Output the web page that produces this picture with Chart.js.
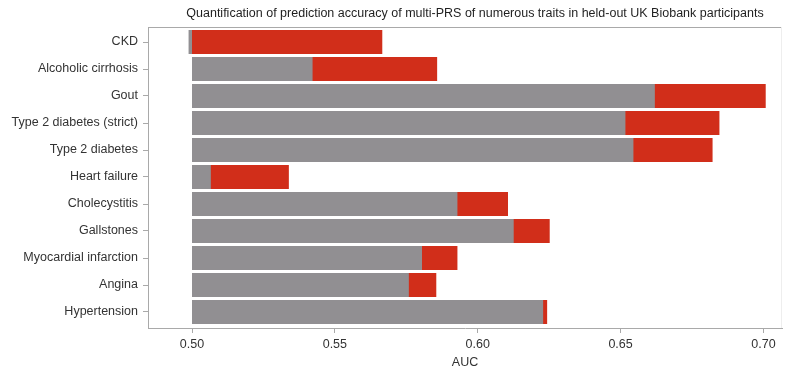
<!DOCTYPE html>
<html>
<head>
<meta charset="utf-8">
<script src="https://cdn.jsdelivr.net/npm/chart.js@4/dist/chart.umd.min.js"></script>
<style>
  html, body { margin: 0; padding: 0; background: #ffffff; }
  #wrap { width: 785px; height: 370px; position: relative; }
</style>
</head>
<body>
<div id="wrap"><canvas id="c" width="785" height="370"></canvas></div>
<script>
// Traits, top to bottom
const traits = [
  'CKD', 'Alcoholic cirrhosis', 'Gout', 'Type 2 diabetes (strict)', 'Type 2 diabetes',
  'Heart failure', 'Cholecystitis', 'Gallstones', 'Myocardial infarction', 'Angina', 'Hypertension'
];
// AUC of the baseline model (grey) and of the model with multi-PRS added (red)
const baseAuc = [0.4988, 0.5422, 0.6620, 0.6517, 0.6545, 0.5066, 0.5929, 0.6126, 0.5805, 0.5759, 0.6229];
const fullAuc = [0.5666, 0.5858, 0.7008, 0.6846, 0.6822, 0.5339, 0.6106, 0.6252, 0.5929, 0.5855, 0.6243];
// AUC of a random predictor, where every bar starts
const chance = 0.5;
const xTicks = [0.50, 0.55, 0.60, 0.65, 0.70];

const TITLE = 'Quantification of prediction accuracy of multi-PRS of numerous traits in held-out UK Biobank participants';
const FONT = '"Liberation Sans", Arial, Helvetica, sans-serif';
const FONT_SIZE = 12.5;
const AXIS_COLOR = '#a9a9a9';

// Plot box is 301px tall; keep one row = 27px so bar edges land on whole pixels
const ROW_PX = 27;
const PLOT_PX = 301;
const yMin = -15 / ROW_PX;
const yMax = yMin + PLOT_PX / ROW_PX;

const toBars = vals => vals.map((v, i) => ({ y: i, x: [chance, v] }));

// Title above the plot and the top/right frame lines
const frame = {
  id: 'frame',
  afterDraw(chart) {
    const { ctx, chartArea: a } = chart;
    ctx.save();
    ctx.strokeStyle = AXIS_COLOR;
    ctx.lineWidth = 1;
    ctx.beginPath();
    ctx.moveTo(a.left, a.top + 0.5);
    ctx.lineTo(a.right, a.top + 0.5);
    ctx.stroke();
    ctx.strokeStyle = '#eeeeee';
    ctx.beginPath();
    ctx.moveTo(a.right - 0.5, a.top);
    ctx.lineTo(a.right - 0.5, a.bottom);
    ctx.stroke();
    ctx.fillStyle = '#1f1f1f';
    ctx.font = FONT_SIZE + 'px ' + FONT;
    ctx.textAlign = 'center';
    ctx.textBaseline = 'middle';
    ctx.fillText(TITLE, (a.left + a.right) / 2 + 10, 14);
    ctx.restore();
  }
};

new Chart(document.getElementById('c'), {
  type: 'bar',
  data: {
    datasets: [
      { label: 'Baseline', data: toBars(baseAuc), backgroundColor: '#918f92', order: 0 },
      { label: 'With multi-PRS', data: toBars(fullAuc), backgroundColor: '#d12e1a', order: 1 }
    ]
  },
  options: {
    indexAxis: 'y',
    responsive: false,
    animation: false,
    events: [],
    layout: { padding: { top: 27, right: 3, left: 0, bottom: 0 } },
    datasets: { bar: { grouped: false, categoryPercentage: 1, barPercentage: 24 / 27, borderWidth: 0 } },
    plugins: { legend: { display: false }, tooltip: { enabled: false }, title: { display: false } },
    scales: {
      x: {
        type: 'linear',
        min: 0.4846,
        max: 0.7065,
        afterBuildTicks: s => { s.ticks = xTicks.map(v => ({ value: v })); },
        afterFit: s => { s.height = 42; },
        ticks: {
          callback: v => Number(v).toFixed(2),
          color: '#333333',
          font: { family: FONT, size: FONT_SIZE },
          padding: 4,
          maxRotation: 0
        },
        grid: { display: true, drawOnChartArea: false, drawTicks: true, tickLength: 5, color: AXIS_COLOR },
        border: { display: true, color: AXIS_COLOR },
        title: { display: true, text: 'AUC', color: '#333333', font: { family: FONT, size: FONT_SIZE }, padding: { top: 2, bottom: 0 } }
      },
      y: {
        type: 'linear',
        reverse: true,
        offset: false,
        min: yMin,
        max: yMax,
        afterBuildTicks: s => { s.ticks = traits.map((_, i) => ({ value: i })); },
        afterFit: s => { s.width = 148; },
        ticks: {
          callback: v => traits[v],
          color: '#333333',
          font: { family: FONT, size: FONT_SIZE },
          padding: 5,
          autoSkip: false
        },
        grid: { display: true, offset: false, drawOnChartArea: false, drawTicks: true, tickLength: 5, color: AXIS_COLOR },
        border: { display: true, color: AXIS_COLOR }
      }
    }
  },
  plugins: [frame]
});
</script>
</body>
</html>
